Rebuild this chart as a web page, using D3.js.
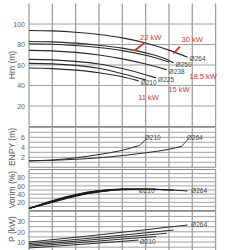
<!DOCTYPE html>
<html>
<head>
<meta charset="utf-8">
<script src="https://cdn.jsdelivr.net/npm/d3@7"></script>
<style>
  body { margin: 0; background: #fff; }
  svg { display: block; font-family: "Liberation Sans", Arial, sans-serif; }
</style>
</head>
<body>
<div id="chart"></div>
<script>
// impeller diameters and flow points (grid units)
var diameters = ['Ø264', 'Ø250', 'Ø245', 'Ø238', 'Ø225', 'Ø218', 'Ø210'];
var qPts = {
  'Ø264': [0, 1, 2, 3, 4, 5, 6, 6.8],
  'Ø250': [0, 1, 2, 3, 4, 5, 6, 6.2],
  'Ø245': [0, 1, 2, 3, 4, 5, 6],
  'Ø238': [0, 1, 2, 3, 4, 5, 5.9],
  'Ø225': [0, 1, 2, 3, 4, 5, 5.45],
  'Ø218': [0, 1, 2, 3, 4, 5],
  'Ø210': [0, 1, 2, 3, 4, 4.7]
};
// head Hm (m)
var headVals = {
  'Ø264': [93.7, 93.3, 92, 89.8, 86.5, 81.5, 74.5, 67.5],
  'Ø250': [83, 82.6, 81.3, 79.3, 76.5, 71.8, 64.5, 62],
  'Ø245': [80.7, 80.3, 79, 77, 74, 69.5, 63],
  'Ø238': [74.3, 73.8, 72.3, 69.8, 66, 61, 55.5],
  'Ø225': [65.5, 65, 63.5, 61, 56.5, 50.5, 47.5],
  'Ø218': [61.6, 61.1, 59.6, 56.8, 51.5, 45.5],
  'Ø210': [57, 56.5, 55, 52.5, 48.5, 44.5]
};
// NPSH (m)
var npshCurves = ['Ø264', 'Ø210'];
var npshQ = { 'Ø264': [0, 1, 2, 3, 4, 5, 6, 6.55], 'Ø210': [0, 1, 2, 3, 4, 4.75] };
var npshVals = { 'Ø264': [1.3, 1.4, 1.6, 1.9, 2.35, 2.9, 3.6, 4.2], 'Ø210': [1.3, 1.45, 1.9, 2.55, 3.4, 4.4] };
// efficiency (%)
var effCurves = ['Ø264', 'Ø250', 'Ø238', 'Ø225', 'Ø210'];
var effVals = {
  'Ø264': [5, 20, 35, 45, 50.5, 52, 50.5, 47.5],
  'Ø250': [5, 21, 36, 46, 51.5, 52.5, 50, 49],
  'Ø238': [5, 22, 37, 47, 52, 52, 51],
  'Ø225': [5, 23, 38, 48, 52.5, 52, 51.5],
  'Ø210': [5, 24, 39, 48.5, 52, 51.5]
};
// power P (kW)
var powVals = {
  'Ø264': [10, 12.3, 14.6, 17, 19.6, 22, 24.6, 26.6],
  'Ø250': [8.5, 10.5, 12.5, 14.6, 16.7, 19, 21.3, 21.8],
  'Ø238': [7.1, 8.9, 10.8, 12.8, 14.8, 16.8, 18.5],
  'Ø225': [5.9, 7.5, 9.2, 11, 12.9, 14.6, 15.3],
  'Ø210': [4.2, 5.8, 7.4, 9, 10.7, 12]
};
// motor power limits
var motorLabels = ['22 kW', '30 kW', '18,5 kW', '15 kW', '11 kW'];
var motorQ = [4.76, 6.54, 6.87, 5.97, 4.68];
var motorH = [84.6, 82.9, 46.8, 33.2, 25.6];
var limitSegs = [[[4.51, 73.7], [4.93, 81.2]], [[6.19, 71], [6.47, 77.9]]];

var xTicks = d3.range(0, 9);
var hmTicks = [20, 40, 60, 80, 100];
var npshTicks = [2, 4, 6];
var effTicks = [20, 40, 60, 80];
var powTicks = [10, 20, 30];

var W = 250, H = 250;
var svg = d3.select('#chart').append('svg').attr('width', W).attr('height', H);

var x = d3.scaleLinear().domain([0, 8]).range([29, 215.6]);

var panels = [
  { title: 'Hm (m)', dom: [0, 120], rng: [126.5, 3.5], grid: d3.range(20, 120, 20), ticks: hmTicks, ty: 65 },
  { title: 'ENPY (m)', dom: [0, 8], rng: [167.3, 127.3], grid: d3.range(1, 8, 1), ticks: npshTicks, ty: 147 },
  { title: 'Vorim (%)', dom: [0, 100], rng: [210.5, 169.5], grid: d3.range(10, 100, 10), ticks: effTicks, ty: 189.5 },
  { title: 'P (kW)', dom: [0, 40], rng: [252.3, 211.3], grid: d3.range(5, 40, 5), ticks: powTicks, ty: 229 }
];

panels.forEach(function (p, i) {
  p.y = d3.scaleLinear().domain(p.dom).range(p.rng);
  var g = svg.append('g');

  // vertical grid
  g.selectAll('.vg').data(xTicks).enter().append('line')
    .attr('x1', function (d) { return x(d); }).attr('x2', function (d) { return x(d); })
    .attr('y1', p.rng[1]).attr('y2', p.rng[0])
    .attr('stroke', '#a0a0a0').attr('stroke-width', 1.3);

  // horizontal grid
  g.selectAll('.hg').data(p.grid).enter().append('line')
    .attr('x1', x(0)).attr('x2', x(8))
    .attr('y1', function (d) { return p.y(d); }).attr('y2', function (d) { return p.y(d); })
    .attr('stroke', '#a0a0a0').attr('stroke-width', 1);

  // panel top / bottom border
  var edges = i === 0 ? [p.rng[0]] : [p.rng[0], p.rng[1]];
  g.selectAll('.edge').data(edges).enter().append('line')
    .attr('x1', x(0)).attr('x2', x(8))
    .attr('y1', function (d) { return d; }).attr('y2', function (d) { return d; })
    .attr('stroke', '#888').attr('stroke-width', 1.1);

  // y axis labels
  var ax = d3.axisLeft(p.y).tickValues(p.ticks).tickSize(0).tickPadding(3);
  var a = g.append('g').attr('transform', 'translate(' + (x(0) - 1) + ',0)').call(ax);
  a.select('.domain').remove();
  a.selectAll('.tick text').attr('fill', '#666').style('font-size', '7px')
    .style('font-family', '"Liberation Sans", Arial, sans-serif');

  svg.append('text')
    .attr('transform', 'translate(15,' + p.ty + ') rotate(-90)')
    .attr('text-anchor', 'middle')
    .attr('fill', '#555').style('font-size', '8.5px')
    .text(p.title);
});

function curve(yScale) {
  return d3.line()
    .x(function (d) { return x(d[0]); })
    .y(function (d) { return yScale(d[1]); })
    .curve(d3.curveMonotoneX);
}
function pts(qs, vs) { return vs.map(function (v, i) { return [qs[i], v]; }); }

var hm = panels[0].y, np = panels[1].y, ef = panels[2].y, pw = panels[3].y;

// head curves
svg.append('g').selectAll('path').data(diameters).enter().append('path')
  .attr('d', function (d) { return curve(hm)(pts(qPts[d], headVals[d])); })
  .attr('fill', 'none').attr('stroke', '#2a2a2a').attr('stroke-width', 1.1);

var headLabels = ['Ø264', 'Ø250', 'Ø238', 'Ø225', 'Ø210'];
svg.append('g').selectAll('text').data(headLabels).enter().append('text')
  .attr('x', function (d) { var q = qPts[d]; return x(q[q.length - 1]) + 2; })
  .attr('y', function (d) { var v = headVals[d]; return hm(v[v.length - 1]) + 4; })
  .attr('fill', '#444').style('font-size', '6.5px').text(function (d) { return d; });

// motor limit segments and labels
svg.append('g').selectAll('line').data(limitSegs).enter().append('line')
  .attr('x1', function (d) { return x(d[0][0]); }).attr('y1', function (d) { return hm(d[0][1]); })
  .attr('x2', function (d) { return x(d[1][0]); }).attr('y2', function (d) { return hm(d[1][1]); })
  .attr('stroke', '#d0312d').attr('stroke-width', 1.8);
svg.append('g').selectAll('text').data(motorLabels).enter().append('text')
  .attr('x', function (d, i) { return x(motorQ[i]); })
  .attr('y', function (d, i) { return hm(motorH[i]); })
  .attr('fill', '#c9403a').style('font-size', '7.5px').text(function (d) { return d; });

// NPSH
svg.append('g').selectAll('path').data(npshCurves).enter().append('path')
  .attr('d', function (d) { return curve(np)(pts(npshQ[d], npshVals[d])); })
  .attr('fill', 'none').attr('stroke', '#2a2a2a').attr('stroke-width', 1);
svg.append('g').selectAll('line').data(npshCurves).enter().append('line')
  .attr('x1', function (d) { var q = npshQ[d]; return x(q[q.length - 1]); })
  .attr('y1', function (d) { var v = npshVals[d]; return np(v[v.length - 1]); })
  .attr('x2', function (d) { var q = npshQ[d]; return x(q[q.length - 1]) + 6; })
  .attr('y2', function (d) { return np(5.6); })
  .attr('stroke', '#2a2a2a').attr('stroke-width', 0.8);
svg.append('g').selectAll('text').data(npshCurves).enter().append('text')
  .attr('x', function (d) { var q = npshQ[d]; return x(q[q.length - 1]) + 5; })
  .attr('y', function (d) { return np(5.6) + 1; })
  .attr('fill', '#444').style('font-size', '6.5px').text(function (d) { return d; });

// efficiency
svg.append('g').selectAll('path').data(effCurves).enter().append('path')
  .attr('d', function (d) { return curve(ef)(pts(qPts[d], effVals[d])); })
  .attr('fill', 'none').attr('stroke', '#1a1a1a').attr('stroke-width', 1.1);
svg.append('text').attr('x', x(6.95)).attr('y', ef(47.5) + 2)
  .attr('fill', '#444').style('font-size', '6.5px').text('Ø264');
svg.append('text').attr('x', x(4.7)).attr('y', ef(42))
  .attr('fill', '#444').style('font-size', '6.5px').text('Ø210');

// power
svg.append('g').selectAll('path').data(effCurves).enter().append('path')
  .attr('d', function (d) { return curve(pw)(pts(qPts[d], powVals[d])); })
  .attr('fill', 'none').attr('stroke', '#2a2a2a').attr('stroke-width', 1);
svg.append('text').attr('x', x(6.95)).attr('y', pw(26.6) + 2)
  .attr('fill', '#444').style('font-size', '6.5px').text('Ø264');
svg.append('text').attr('x', x(4.75)).attr('y', pw(8))
  .attr('fill', '#444').style('font-size', '6.5px').text('Ø210');
</script>
</body>
</html>
